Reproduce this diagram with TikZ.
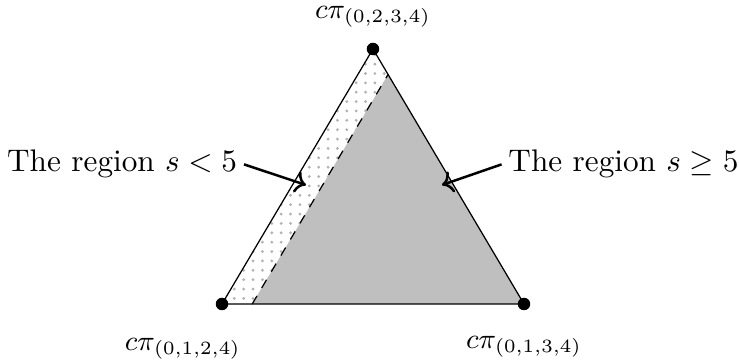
\documentclass[tikz,border=0pt]{standalone}
\usepackage{amsmath}
\usepackage{amssymb}
\usetikzlibrary{arrows.meta, positioning, calc, patterns}

\begin{document}
\begin{tikzpicture}[
    vertex/.style={circle, fill=black, inner sep=0pt, minimum size=4pt},
    vlabel/.style={inner sep=0pt, font=\small},
    txt/.style={inner sep=2pt},
    arrow/.style={->, thick},
]
\useasboundingbox (0,0) rectangle (8.314,4.095);

\coordinate (A) at (2.4975,0.675);
\coordinate (B) at (4.196,3.544);
\coordinate (C) at (5.895,0.675);
\coordinate (D) at ($(A)!0.1!(C)$);
\coordinate (E) at ($(B)!0.1!(C)$);

% strip s < 5 and region s >= 5
\fill[pattern=dots, pattern color=gray!60] (A) -- (B) -- (E) -- (D) -- cycle;
\fill[gray!50] (D) -- (E) -- (C) -- cycle;
\draw[dashed] (D) -- (E);
\draw (A) -- (B) -- (C) -- cycle;

\node[vertex] (a) at (A) {};
\node[vertex] (b) at (B) {};
\node[vertex] (c) at (C) {};

\node[vlabel, above=0.16cm of b] (lb) {$c\pi_{(0,2,3,4)}$};
\node[vlabel, below=0.30cm of a, xshift=-0.44cm] (la) {$c\pi_{(0,1,2,4)}$};
\node[vlabel, below=0.28cm of c] (lc) {$c\pi_{(0,1,3,4)}$};

\coordinate (lt) at (3.4425,2.014);
\coordinate (rt) at (4.9725,2.014);
\node[txt, anchor=base east] (lo) at (2.745,2.16) {The region $s < 5$};
\node[txt, anchor=base west] (hi) at (5.643,2.16) {The region $s \geq 5$};

\draw[arrow] (lo.east) -- (lt);
\draw[arrow] (hi.west) -- (rt);

\end{tikzpicture}
\end{document}
